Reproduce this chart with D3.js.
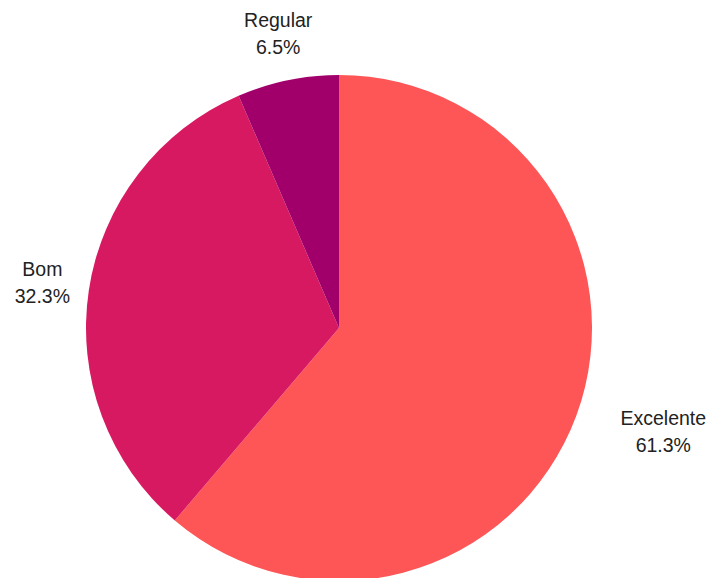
<!DOCTYPE html>
<html><head><meta charset="utf-8">
<script src="https://cdn.jsdelivr.net/npm/d3@7"></script>
<style>body{margin:0;background:#fff}</style>
</head><body>
<svg id="chart" width="719" height="578"></svg>
<script>
const categories = ["Excelente", "Bom", "Regular"];
const values = [61.3, 32.3, 6.5];
const labels = ["61.3%", "32.3%", "6.5%"];
const colors = ["#FE5656", "#D71961", "#A1006B"];

const W = 719, H = 578, cx = 339, cy = 328, R = 253, LR = 300;
const svg = d3.select("#chart");
const g = svg.append("g").attr("transform", `translate(${cx},${cy})`);
const data = categories.map((c, i) => ({c, v: values[i], l: labels[i], col: colors[i]}));
const pie = d3.pie().value(d => d.v).sort(null);
const arc = d3.arc().innerRadius(0).outerRadius(R);
const arcs = pie(data);
g.selectAll("path").data(arcs).join("path").attr("d", arc).attr("fill", d => d.data.col);

arcs.forEach(d => {
  const a = (d.startAngle + d.endAngle) / 2;
  const x = Math.sin(a) * LR, y = -Math.cos(a) * LR;
  const t = g.append("text")
    .attr("text-anchor", "middle")
    .style("font-family", "Liberation Sans, Arial, sans-serif")
    .style("font-size", "19.5px").attr("fill", "#222");
  const t1 = t.append("tspan").attr("y", y - 7).text(d.data.c);
  const t2 = t.append("tspan").attr("y", y + 20).text(d.data.l);
  let cxl = x;
  if (Math.sin(a) > 0.5) {
    const w = Math.max(t1.node().getComputedTextLength(), t2.node().getComputedTextLength());
    cxl = x + w / 2;
  }
  t1.attr("x", cxl); t2.attr("x", cxl);
});
</script>
</body></html>
